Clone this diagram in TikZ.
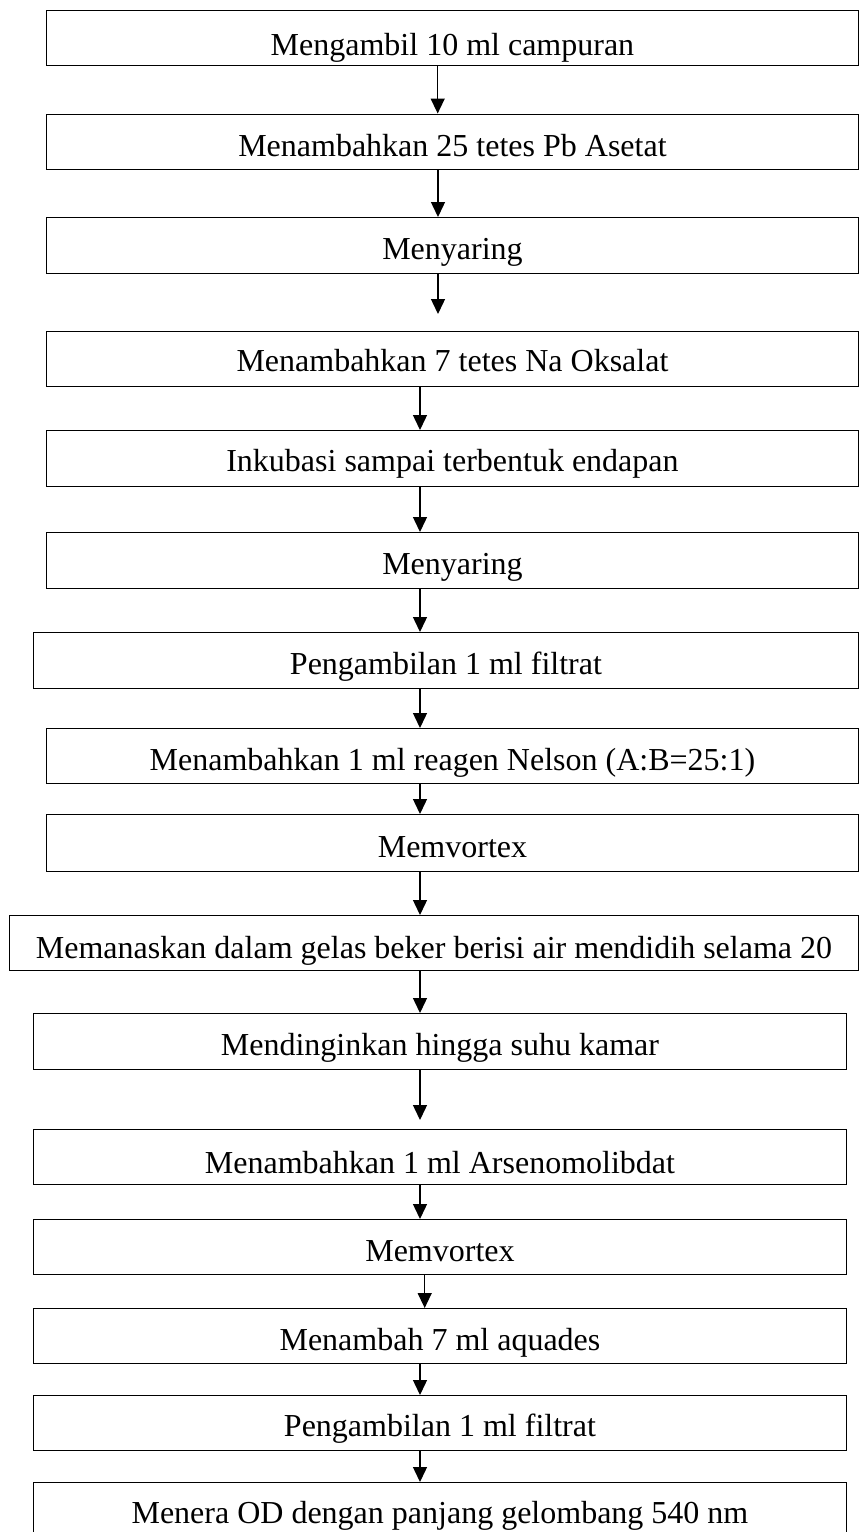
\documentclass[tikz,border=0pt]{standalone}
\usepackage{fontspec}
\setmainfont{Liberation Serif}
\usetikzlibrary{arrows.meta}

% text lowered inside its box by #1 pt below the box centre (baseline position)
\newcommand\boxtext[2][14]{\raisebox{-#1pt}[0pt][0pt]{#2}}

\tikzset{
  stepbox/.style={draw=black, line width=1.4pt, fill=white, inner sep=0pt,
    anchor=north west, font=\fontsize{32}{38}\selectfont},
  arr/.style={draw=black, line width=1.4pt,
    -{Triangle[width=14pt,length=15pt]}}
}

\begin{document}
\begin{tikzpicture}[x=1pt, y=-1pt]
\clip (0,0) rectangle (859,1532);
\fill[white] (0,0) rectangle (859,1532);

% process steps (left, top corner; width = right - left; height = bottom - top)
\node[stepbox, minimum width=811.5pt, minimum height=55pt]   (b1)  at (46,10)     {\boxtext[17]{Mengambil 10 ml campuran}};
\node[stepbox, minimum width=811.5pt, minimum height=55.5pt] (b2)  at (46,113.5)  {\boxtext[15]{Menambahkan 25 tetes Pb Asetat}};
\node[stepbox, minimum width=811.5pt, minimum height=56pt]   (b3)  at (46,217)    {\boxtext{Menyaring}};
\node[stepbox, minimum width=811.5pt, minimum height=55pt]   (b4)  at (46,331)    {\boxtext[12.5]{Menambahkan 7 tetes Na Oksalat}};
\node[stepbox, minimum width=811.5pt, minimum height=56pt]   (b5)  at (46,430)    {\boxtext[13]{Inkubasi sampai terbentuk endapan}};
\node[stepbox, minimum width=811.5pt, minimum height=56pt]   (b6)  at (46,532)    {\boxtext[13.5]{Menyaring}};
\node[stepbox, minimum width=824.5pt, minimum height=56pt]   (b7)  at (33,632)    {\boxtext[13.5]{Pengambilan 1 ml filtrat}};
\node[stepbox, minimum width=811.5pt, minimum height=55pt]   (b8)  at (46,728)    {\boxtext{Menambahkan 1 ml reagen Nelson (A:B=25:1)}};
\node[stepbox, minimum width=811.5pt, minimum height=57pt]   (b9)  at (46,814)    {\boxtext{Memvortex}};
\node[stepbox, minimum width=848.5pt, minimum height=55pt]   (b10) at (9,915)     {\boxtext[15]{Memanaskan dalam gelas beker berisi air mendidih selama 20}};
\node[stepbox, minimum width=812.5pt, minimum height=56pt]   (b11) at (33,1013)   {\boxtext{Mendinginkan hingga suhu kamar}};
\node[stepbox, minimum width=812.5pt, minimum height=55pt]   (b12) at (33,1129)   {\boxtext[16.5]{Menambahkan 1 ml Arsenomolibdat}};
\node[stepbox, minimum width=812.5pt, minimum height=55pt]   (b13) at (33,1219)   {\boxtext{Memvortex}};
\node[stepbox, minimum width=812.5pt, minimum height=55pt]   (b14) at (33,1308)   {\boxtext{Menambah 7 ml aquades}};
\node[stepbox, minimum width=812.5pt, minimum height=55pt]   (b15) at (33,1395)   {\boxtext[13.5]{Pengambilan 1 ml filtrat}};
\node[stepbox, minimum width=812.5pt, minimum height=58pt]   (b16) at (33,1482)   {\boxtext[12]{Menera OD dengan panjang gelombang 540 nm}};

% free ends of the two arrows that stop short of the next box
\coordinate (g3)  at (438,314);
\coordinate (g11) at (420,1120);

% connectors
\draw[arr] (b1.south -| 437.7,0)  -- (b2.north -| 437.7,0);
\draw[arr] (b2.south -| 438,0)    -- (b3.north -| 438,0);
\draw[arr] (b3.south -| g3)       -- (g3);
\draw[arr] (b4.south -| 420,0)    -- (b5.north -| 420,0);
\draw[arr] (b5.south -| 420,0)    -- (b6.north -| 420,0);
\draw[arr] (b6.south -| 420,0)    -- (b7.north -| 420,0);
\draw[arr] (b7.south -| 420,0)    -- (b8.north -| 420,0);
\draw[arr] (b8.south -| 420,0)    -- (b9.north -| 420,0);
\draw[arr] (b9.south -| 420,0)    -- (b10.north -| 420,0);
\draw[arr] (b10.south -| 420,0)   -- (b11.north -| 420,0);
\draw[arr] (b11.south -| g11)     -- (g11);
\draw[arr] (b12.south -| 420,0)   -- (b13.north -| 420,0);
\draw[arr] (b13.south -| 424.7,0) -- (b14.north -| 424.7,0);
\draw[arr] (b14.south -| 420,0)   -- (b15.north -| 420,0);
\draw[arr] (b15.south -| 420,0)   -- (b16.north -| 420,0);
\end{tikzpicture}
\end{document}
